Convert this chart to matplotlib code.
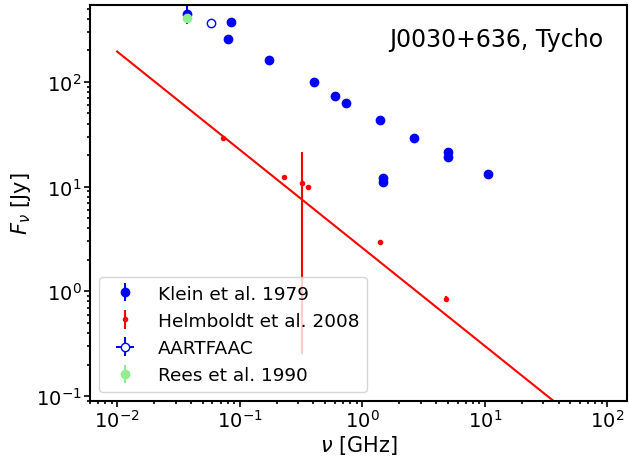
import numpy as np
import matplotlib
matplotlib.use('Agg')
import matplotlib.pyplot as plt

# Klein et al. 1979
klein_nu = [0.0373, 0.0805, 0.0845, 0.175, 0.404, 0.605, 0.743, 1.39, 1.49, 1.49, 2.66, 4.98, 4.98, 10.7]
klein_flux = [446, 258, 372, 162, 100, 73, 63, 43.2, 12.1, 11.0, 29.0, 21.3, 19.2, 13.1]
klein_err = [90, 8, 10, 15, 10, 3, 3, 2, 0.6, 0.6, 1.5, 1.0, 1.0, 0.6]

# Helmboldt et al. 2008
helm_nu = [0.0733, 0.230, 0.322, 0.360, 1.39, 4.82]
helm_flux = [29.2, 12.3, 10.8, 9.86, 2.99, 0.846]
helm_err = [0.5, 0.3, 10.55, 0.3, 0.1, 0.06]

# AARTFAAC
aart_nu = [0.0588]
aart_flux = [364]
aart_err = [5]
aart_nu_err = [0.001]

# Rees et al. 1990
rees_nu = [0.0373]
rees_flux = [409]
rees_err = [20]

# power-law fit line endpoints
fit_nu = [0.01, 100]
fit_flux = [195, 0.0348]

fig = plt.figure(figsize=(6.29, 4.60), dpi=100)
ax = fig.add_axes([0.143, 0.126, 0.854, 0.861])

ax.errorbar(klein_nu, klein_flux, yerr=klein_err, fmt='o', color='blue',
            markersize=6, label='Klein et al. 1979')
ax.errorbar(helm_nu, helm_flux, yerr=helm_err, fmt='.', color='red',
            label='Helmboldt et al. 2008')
ax.errorbar(aart_nu, aart_flux, yerr=aart_err, xerr=aart_nu_err, fmt='o', color='blue',
            markerfacecolor='white', markersize=6, label='AARTFAAC')
ax.errorbar(rees_nu, rees_flux, yerr=rees_err, fmt='o', color='lightgreen',
            markersize=6, label='Rees et al. 1990')
ax.plot(fit_nu, fit_flux, color='red', linewidth=1.5)

ax.set_xscale('log')
ax.set_yscale('log')
ax.set_xlim(6.0e-3, 145)
ax.set_ylim(0.0896, 543)

for s in ax.spines.values():
    s.set_linewidth(1.5)
ax.tick_params(which='both', labelsize=14, width=1.2, pad=2)
ax.tick_params(which='major', length=4)

ax.set_xlabel(r'$\nu$ [GHz]', fontsize=15, labelpad=1)
ax.set_ylabel(r'$F_\nu$ [Jy]', fontsize=15, labelpad=2)

ax.text(0.955, 0.945, 'J0030+636, Tycho', transform=ax.transAxes,
        ha='right', va='top', fontsize=17)

ax.legend(loc='lower left', fontsize=13.3)

fig.savefig('out.png', dpi=100)
